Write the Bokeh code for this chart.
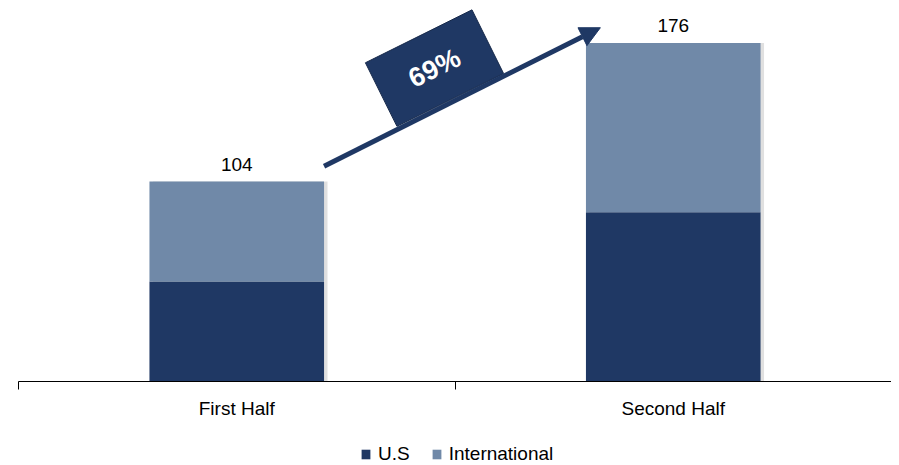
from bokeh.plotting import figure
from bokeh.layouts import column
from bokeh.models import (ColumnDataSource, FixedTicker, Range1d, Legend, LegendItem,
                          Arrow, NormalHead, LabelSet)
from bokeh.embed import file_html
from bokeh.resources import INLINE
from bokeh.core.properties import value
import math

# ---- data ----
categories = ["First Half", "Second Half"]
us = [52, 88]
international = [52, 88]
totals = [a + b for a, b in zip(us, international)]
growth_label = "69%"
series_names = ["U.S", "International"]

US_COLOR = "#1F3864"
INTL_COLOR = "#7089A8"
FONT = "Liberation Sans"

x_pos = [i + 0.5 for i in range(len(categories))]
bar_w = 0.4

src = ColumnDataSource(dict(
    x=x_pos, us=us, intl=international, total=totals,
    lbl=[str(t) for t in totals],
))

p = figure(frame_width=873, frame_height=373, output_backend="svg", toolbar_location=None,
           x_range=Range1d(0, len(categories)), y_range=Range1d(0, 194),
           min_border_left=18, min_border_right=0, min_border_top=8, min_border_bottom=0,
           outline_line_color=None)
p.background_fill_color = "white"
p.xgrid.visible = False
p.ygrid.visible = False
p.yaxis.visible = False

# shadow
shadow_off = 0.008
p.vbar(x=[x + shadow_off for x in x_pos], top=totals, bottom=0, width=bar_w,
       fill_color="black", fill_alpha=0.12, line_color=None)

r_us = p.vbar(x="x", top="us", bottom=0, width=bar_w, source=src,
              fill_color=US_COLOR, line_color=None)
r_intl = p.vbar(x="x", bottom="us", top="total", width=bar_w, source=src,
                fill_color=INTL_COLOR, line_color=None)

labels = LabelSet(x="x", y="total", text="lbl", source=src, text_align="center",
                  text_baseline="bottom", y_offset=11, text_font=value(FONT),
                  text_font_size="19px", text_color="black")
p.add_layout(labels)

# x axis: labels at centers, tick marks at boundaries
ax = p.xaxis[0]
ax.ticker = FixedTicker(ticks=x_pos, minor_ticks=list(range(len(categories) + 1)))
ax.major_label_overrides = {x: c for x, c in zip(x_pos, categories)}
ax.major_tick_out = 0
ax.major_tick_in = 0
ax.minor_tick_out = 8
ax.minor_tick_in = 0
ax.minor_tick_line_color = "black"
ax.axis_line_color = "black"
ax.axis_line_width = 1
ax.major_label_text_font = FONT
ax.major_label_text_font_size = "19px"
ax.major_label_text_color = "black"
ax.major_label_standoff = 8

# growth arrow between bars
arrow_y_pad = 8
x0 = x_pos[0] + bar_w / 2
x1 = x_pos[1] - bar_w / 2 + 0.033
y0 = totals[0] + arrow_y_pad
y1 = totals[1] + arrow_y_pad
p.add_layout(Arrow(x_start=x0, y_start=y0, x_end=x1, y_end=y1,
                   line_color=US_COLOR, line_width=5,
                   end=NormalHead(size=20, fill_color=US_COLOR, line_color=US_COLOR)))

angle = math.atan2(138, 278)
box_x, box_y = 0.953, 163
p.rect(x=[box_x], y=[box_y], width=119, height=71, width_units="screen",
       height_units="screen", angle=angle, fill_color=US_COLOR,
       line_color="#17294a", line_width=1)
p.text(x=[box_x], y=[box_y], text=[growth_label], angle=angle,
       text_align="center", text_baseline="middle", text_color="white",
       text_font=value(FONT), text_font_style="bold", text_font_size="27px")

# legend strip below the chart (its own renderers sit far outside its visible ranges)
lg = figure(width=891, height=44, output_backend="svg", toolbar_location=None,
            x_range=Range1d(-30, -29), y_range=Range1d(-300, -299),
            min_border=0, outline_line_color=None)
lg.axis.visible = False
lg.grid.visible = False
l_us = lg.vbar(x="x", top="us", bottom=0, width=bar_w, source=src,
               fill_color=US_COLOR, line_color=None)
l_intl = lg.vbar(x="x", bottom="us", top="total", width=bar_w, source=src,
                 fill_color=INTL_COLOR, line_color=None)

legend = Legend(items=[LegendItem(label=series_names[0], renderers=[l_us]),
                       LegendItem(label=series_names[1], renderers=[l_intl])],
                orientation="horizontal", location=(342, 0),
                border_line_color=None, background_fill_alpha=0,
                label_text_font=FONT, label_text_font_size="19px",
                label_text_color="black",
                glyph_width=11, glyph_height=12, label_standoff=7, spacing=21,
                padding=0, margin=0)
lg.add_layout(legend, "center")

layout = column(p, lg, spacing=0)
open("out.html", "w").write(file_html(layout, INLINE))
